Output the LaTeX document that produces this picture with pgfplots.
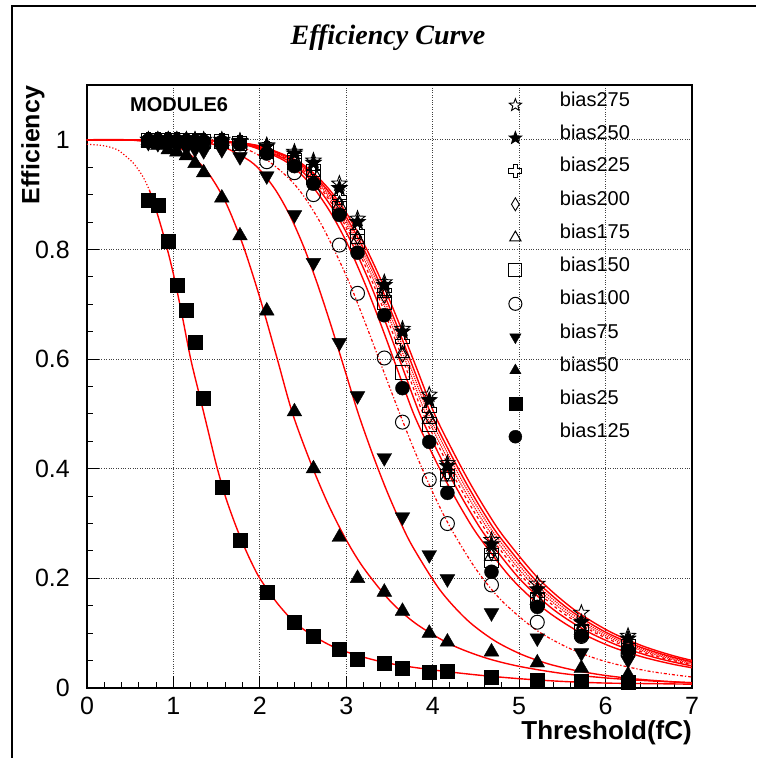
\documentclass[border=0pt]{standalone}
\usepackage{pgfplots}
\pgfplotsset{compat=1.18}
\usepackage{pgfplotstable}
\usepackage{fontspec}
\setmainfont{Liberation Sans}
\newfontfamily\titlefont{Liberation Serif}
\usetikzlibrary{plotmarks}

\pgfdeclareplotmark{ostar}{%
 \pgfpathmoveto{\pgfpointpolar{90}{\pgfplotmarksize}}%
 \pgfpathlineto{\pgfpointpolar{126}{0.42\pgfplotmarksize}}%
 \pgfpathlineto{\pgfpointpolar{162}{\pgfplotmarksize}}%
 \pgfpathlineto{\pgfpointpolar{198}{0.42\pgfplotmarksize}}%
 \pgfpathlineto{\pgfpointpolar{234}{\pgfplotmarksize}}%
 \pgfpathlineto{\pgfpointpolar{270}{0.42\pgfplotmarksize}}%
 \pgfpathlineto{\pgfpointpolar{306}{\pgfplotmarksize}}%
 \pgfpathlineto{\pgfpointpolar{342}{0.42\pgfplotmarksize}}%
 \pgfpathlineto{\pgfpointpolar{18}{\pgfplotmarksize}}%
 \pgfpathlineto{\pgfpointpolar{54}{0.42\pgfplotmarksize}}%
 \pgfpathclose\pgfusepathqstroke}
\pgfdeclareplotmark{fstar}{%
 \pgfpathmoveto{\pgfpointpolar{90}{\pgfplotmarksize}}%
 \pgfpathlineto{\pgfpointpolar{126}{0.42\pgfplotmarksize}}%
 \pgfpathlineto{\pgfpointpolar{162}{\pgfplotmarksize}}%
 \pgfpathlineto{\pgfpointpolar{198}{0.42\pgfplotmarksize}}%
 \pgfpathlineto{\pgfpointpolar{234}{\pgfplotmarksize}}%
 \pgfpathlineto{\pgfpointpolar{270}{0.42\pgfplotmarksize}}%
 \pgfpathlineto{\pgfpointpolar{306}{\pgfplotmarksize}}%
 \pgfpathlineto{\pgfpointpolar{342}{0.42\pgfplotmarksize}}%
 \pgfpathlineto{\pgfpointpolar{18}{\pgfplotmarksize}}%
 \pgfpathlineto{\pgfpointpolar{54}{0.42\pgfplotmarksize}}%
 \pgfpathclose\pgfusepathqfillstroke}
\pgfdeclareplotmark{ocross}{%
 \pgfpathmoveto{\pgfpoint{-0.33\pgfplotmarksize}{\pgfplotmarksize}}%
 \pgfpathlineto{\pgfpoint{0.33\pgfplotmarksize}{\pgfplotmarksize}}%
 \pgfpathlineto{\pgfpoint{0.33\pgfplotmarksize}{0.33\pgfplotmarksize}}%
 \pgfpathlineto{\pgfpoint{\pgfplotmarksize}{0.33\pgfplotmarksize}}%
 \pgfpathlineto{\pgfpoint{\pgfplotmarksize}{-0.33\pgfplotmarksize}}%
 \pgfpathlineto{\pgfpoint{0.33\pgfplotmarksize}{-0.33\pgfplotmarksize}}%
 \pgfpathlineto{\pgfpoint{0.33\pgfplotmarksize}{-\pgfplotmarksize}}%
 \pgfpathlineto{\pgfpoint{-0.33\pgfplotmarksize}{-\pgfplotmarksize}}%
 \pgfpathlineto{\pgfpoint{-0.33\pgfplotmarksize}{-0.33\pgfplotmarksize}}%
 \pgfpathlineto{\pgfpoint{-\pgfplotmarksize}{-0.33\pgfplotmarksize}}%
 \pgfpathlineto{\pgfpoint{-\pgfplotmarksize}{0.33\pgfplotmarksize}}%
 \pgfpathlineto{\pgfpoint{-0.33\pgfplotmarksize}{0.33\pgfplotmarksize}}%
 \pgfpathclose\pgfusepathqstroke}
\pgfdeclareplotmark{odiam}{%
 \pgfpathmoveto{\pgfpoint{0pt}{\pgfplotmarksize}}%
 \pgfpathlineto{\pgfpoint{0.6\pgfplotmarksize}{0pt}}%
 \pgfpathlineto{\pgfpoint{0pt}{-\pgfplotmarksize}}%
 \pgfpathlineto{\pgfpoint{-0.6\pgfplotmarksize}{0pt}}%
 \pgfpathclose\pgfusepathqstroke}

\pgfplotstableread{
x    b275  b250  b225  b200  b175  b150  b125  b100  b75   b50   b25
0.71 1.000 1.000 1.000 1.000 0.999 0.999 0.999 0.998 0.995 0.995 0.890
0.82 1.000 1.000 1.000 1.000 0.999 0.999 0.999 0.998 0.993 0.990 0.880
0.94 1.000 1.000 1.000 0.999 0.999 0.999 0.998 0.998 0.990 0.982 0.815
1.04 1.000 1.000 1.000 0.999 0.999 0.999 0.998 0.997 0.988 0.978 0.735
1.15 1.000 1.000 0.999 0.999 0.999 0.998 0.998 0.997 0.985 0.971 0.690
1.25 1.000 1.000 0.999 0.999 0.998 0.998 0.997 0.996 0.983 0.957 0.630
1.35 1.000 0.999 0.999 0.998 0.998 0.997 0.997 0.995 0.980 0.940 0.528
1.56 1.000 0.999 0.999 0.998 0.997 0.997 0.996 0.994 0.982 0.894 0.367
1.77 0.998 0.997 0.996 0.995 0.995 0.994 0.992 0.986 0.969 0.825 0.270
2.08 0.990 0.988 0.985 0.982 0.980 0.978 0.975 0.960 0.934 0.688 0.175
2.40 0.978 0.975 0.970 0.965 0.963 0.958 0.952 0.940 0.863 0.504 0.120
2.62 0.962 0.958 0.950 0.945 0.940 0.932 0.920 0.900 0.776 0.400 0.095
2.92 0.920 0.912 0.895 0.885 0.880 0.875 0.863 0.808 0.630 0.275 0.070
3.13 0.856 0.850 0.832 0.822 0.818 0.814 0.794 0.720 0.533 0.200 0.053
3.44 0.740 0.735 0.725 0.715 0.720 0.704 0.680 0.602 0.420 0.175 0.046
3.65 0.655 0.650 0.632 0.607 0.610 0.575 0.547 0.485 0.312 0.140 0.037
3.96 0.535 0.525 0.507 0.495 0.490 0.480 0.449 0.380 0.243 0.100 0.028
4.17 0.410 0.405 0.395 0.390 0.385 0.380 0.356 0.300 0.199 0.084 0.031
4.68 0.270 0.262 0.250 0.245 0.240 0.233 0.212 0.188 0.137 0.066 0.020
5.21 0.190 0.180 0.170 0.165 0.160 0.160 0.148 0.120 0.091 0.046 0.014
5.72 0.137 0.120 0.110 0.105 0.105 0.103 0.095 0.094 0.064 0.036 0.012
6.26 0.095 0.090 0.085 0.080 0.078 0.075 0.068 0.063 0.051 0.024 0.010
}\datatab

\pgfplotstableread{
g      x1    x2    x3    x4    x5    x6    x7
1.0000 0.000 0.000 0.000 0.000 0.000 0.000 0.000
0.9996 1.206 1.194 1.185 1.176 1.167 1.155 1.134
0.9972 1.608 1.592 1.580 1.568 1.556 1.540 1.512
0.9883 2.010 1.990 1.975 1.960 1.945 1.925 1.890
0.9634 2.412 2.388 2.370 2.352 2.334 2.310 2.268
0.9403 2.613 2.587 2.568 2.548 2.529 2.503 2.457
0.9074 2.814 2.786 2.765 2.744 2.723 2.695 2.646
0.8630 3.015 2.985 2.963 2.940 2.918 2.888 2.835
0.8066 3.216 3.184 3.160 3.136 3.112 3.080 3.024
0.7388 3.417 3.383 3.358 3.332 3.307 3.273 3.213
0.6625 3.618 3.582 3.555 3.528 3.501 3.465 3.402
0.5813 3.819 3.781 3.753 3.724 3.696 3.658 3.591
0.5000 4.020 3.980 3.950 3.920 3.890 3.850 3.780
0.4357 4.221 4.179 4.148 4.116 4.085 4.043 3.969
0.3763 4.422 4.378 4.345 4.312 4.279 4.235 4.158
0.3229 4.623 4.577 4.543 4.508 4.474 4.428 4.347
0.2756 4.824 4.776 4.740 4.704 4.668 4.620 4.536
0.1993 5.226 5.174 5.135 5.096 5.057 5.005 4.914
0.1439 5.628 5.572 5.530 5.488 5.446 5.390 5.292
0.1044 6.030 5.970 5.925 5.880 5.835 5.775 5.670
0.0765 6.432 6.368 6.320 6.272 6.224 6.160 6.048
0.0567 6.834 6.766 6.715 6.664 6.613 6.545 6.426
0.0425 7.236 7.164 7.110 7.056 7.002 6.930 6.804
0.0322 7.638 7.562 7.505 7.448 7.391 7.315 7.182
}\cluster

\pgfplotstableread{
x     y
0.000 1.0000
0.942 0.9995
1.256 0.9969
1.570 0.9875
1.884 0.9615
2.041 0.9378
2.198 0.9044
2.355 0.8597
2.512 0.8031
2.669 0.7357
2.826 0.6601
2.983 0.5801
3.140 0.5000
3.297 0.4297
3.454 0.3652
3.611 0.3078
3.768 0.2578
4.082 0.1792
4.396 0.1244
4.710 0.0869
5.024 0.0615
5.338 0.0440
5.652 0.0320
5.966 0.0236
6.280 0.0176
6.594 0.0133
6.908 0.0102
7.222 0.0079
}\fitA

\pgfplotstableread{
x    y
0.0  1.0000
0.5  0.9997
1.0  0.9890
1.2  0.9720
1.4  0.9400
1.6  0.8875
1.8  0.8100
2.0  0.7120
2.2  0.6010
2.38 0.5000
2.6  0.4060
2.8  0.3320
3.0  0.2700
3.2  0.2190
3.5  0.1600
3.8  0.1180
4.2  0.0800
4.6  0.0555
5.0  0.0395
5.5  0.0265
6.0  0.0184
6.5  0.0131
7.0  0.0096
}\fitB

\pgfplotstableread{
x    y
0.0  1.0000
1.5  0.9945
2.0  0.9710
2.4  0.9190
2.7  0.8490
3.0  0.7520
3.2  0.6740
3.4  0.5910
3.62 0.5000
3.8  0.4290
4.0  0.3570
4.2  0.2940
4.5  0.2170
4.8  0.1590
5.2  0.1056
5.6  0.0710
6.0  0.0483
6.5  0.0307
7.0  0.0200
}\fitC

\pgfplotstableread{
x    y
0.72 0.909
0.8  0.872
0.9  0.818
1.0  0.755
1.1  0.680
1.2  0.600
1.3  0.535
1.4  0.470
1.5  0.405
1.6  0.350
1.7  0.305
1.8  0.265
1.9  0.230
2.0  0.200
2.2  0.155
2.4  0.120
2.6  0.097
2.8  0.079
3.0  0.066
3.3  0.052
3.6  0.042
4.0  0.033
4.5  0.024
5.0  0.017
5.5  0.012
6.0  0.009
6.5  0.008
7.0  0.007
}\fitD

\pgfplotstableread{
x    y
0.00 0.992
0.20 0.989
0.35 0.982
0.45 0.970
0.55 0.955
0.65 0.932
0.72 0.909
}\fitE

\begin{document}
\begin{tikzpicture}
\useasboundingbox (0pt,0pt) rectangle (756pt,758pt);
\begin{axis}[
 at={(87pt,70pt)}, anchor=south west,
 scale only axis, width=605pt, height=603pt,
 xmin=0, xmax=7, ymin=0, ymax=1.1,
 xtick={0,1,2,3,4,5,6,7}, ytick={0,0.2,0.4,0.6,0.8,1},
 minor x tick num=4, minor y tick num=3,
 tick align=inside, xtick pos=bottom, ytick pos=left,
 major tick length=12pt, minor tick length=6pt,
 every tick/.style={black, line width=1pt},
 grid=major, major grid style={black!75, dotted, line width=0.9pt},
 axis line style={line width=1.3pt},
 ticklabel style={font=\fontsize{25}{25}\selectfont, inner sep=0pt},
 /pgf/number format/assume math mode=true,
 yticklabel style={xshift=-17pt},
 xticklabel style={yshift=-9pt},
 legend style={at={(0.697,0.99)}, anchor=north west, draw=none, fill=none,
   inner sep=0pt, font=\fontsize{20}{20}\selectfont, row sep=12.85pt,
   nodes={inner sep=1pt, text height=14pt, text depth=4pt}},
 legend cell align=left,
 /tikz/every odd column/.append style={column sep=37pt},
 legend image post style={yshift=-4pt, xshift=2pt, mark size=6.5pt},
]
\addplot[only marks, mark=ostar, mark size=8pt, black, line width=0.9pt] table[x=x,y=b275] {\datatab};
\addlegendentry{bias275}
\addplot[only marks, mark=fstar, mark size=8pt, black, line width=0.9pt] table[x=x,y=b250] {\datatab};
\addlegendentry{bias250}
\addplot[only marks, mark=ocross, mark size=7pt, black, line width=1pt] table[x=x,y=b225] {\datatab};
\addlegendentry{bias225}
\addplot[only marks, mark=odiam, mark size=7pt, black, line width=0.9pt] table[x=x,y=b200] {\datatab};
\addlegendentry{bias200}
\addplot[only marks, mark=triangle, mark size=8pt, black, line width=1pt] table[x=x,y=b175] {\datatab};
\addlegendentry{bias175}
\addplot[only marks, mark=square, mark size=7pt, black, line width=1pt] table[x=x,y=b150] {\datatab};
\addlegendentry{bias150}
\addplot[only marks, mark=o, mark size=7pt, black, line width=1pt] table[x=x,y=b100] {\datatab};
\addlegendentry{bias100}
\addplot[only marks, mark=triangle*, mark size=8.5pt, black, mark options={rotate=180}] table[x=x,y=b75] {\datatab};
\addlegendentry{bias75}
\addplot[only marks, mark=triangle*, mark size=8.5pt, black] table[x=x,y=b50] {\datatab};
\addlegendentry{bias50}
\addplot[only marks, mark=square*, mark size=7pt, black] table[x=x,y=b25] {\datatab};
\addlegendentry{bias25}
\addplot[only marks, mark=*, mark size=7pt, black] table[x=x,y=b125] {\datatab};
\addlegendentry{bias125}

\addplot[red, line width=1.4pt, smooth, forget plot] table[x=x1,y=g] {\cluster};
\addplot[red, line width=1.4pt, smooth, forget plot] table[x=x2,y=g] {\cluster};
\addplot[red, line width=1.2pt, smooth, densely dotted, forget plot] table[x=x3,y=g] {\cluster};
\addplot[red, line width=1.2pt, smooth, densely dotted, forget plot] table[x=x4,y=g] {\cluster};
\addplot[red, line width=1.2pt, smooth, dashed, forget plot] table[x=x5,y=g] {\cluster};
\addplot[red, line width=1.4pt, smooth, forget plot] table[x=x6,y=g] {\cluster};
\addplot[red, line width=1.4pt, smooth, forget plot] table[x=x7,y=g] {\cluster};
\addplot[red, line width=1.2pt, smooth, dash dot, forget plot] table[x=x,y=y] {\fitC};
\addplot[red, line width=1.4pt, smooth, forget plot] table[x=x,y=y] {\fitA};
\addplot[red, line width=1.4pt, smooth, forget plot] table[x=x,y=y] {\fitB};
\addplot[red, line width=1.4pt, smooth, forget plot] table[x=x,y=y] {\fitD};
\addplot[red, line width=1.2pt, smooth, dotted, forget plot] table[x=x,y=y] {\fitE};
\end{axis}
\draw[line width=1.5pt] (12pt,0pt) -- (12pt,752pt) -- (756pt,752pt);
\node[font=\titlefont\bfseries\itshape\fontsize{28}{28}\selectfont] at (388pt,720pt) {Efficiency Curve};
\node[rotate=90, font=\bfseries\fontsize{25}{25}\selectfont] at (33pt,613pt) {Efficiency};
\node[anchor=east, inner sep=0pt, font=\bfseries\fontsize{26}{26}\selectfont] at (692pt,25pt) {Threshold(fC)};
\node[anchor=west, inner sep=0pt, font=\bfseries\fontsize{20}{20}\selectfont] at (130pt,653pt) {MODULE6};
\end{tikzpicture}
\end{document}
